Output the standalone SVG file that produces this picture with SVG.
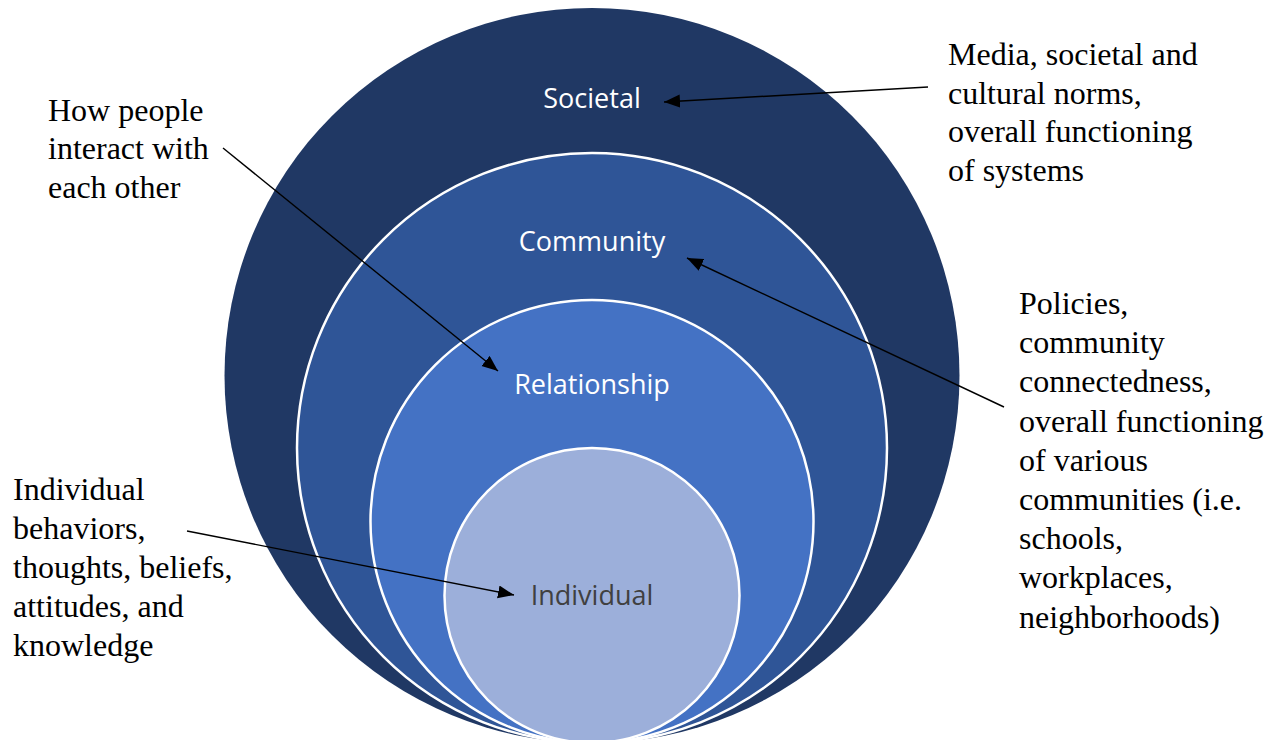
<svg xmlns="http://www.w3.org/2000/svg" width="1275" height="740" viewBox="0 0 1275 740">
  <style>
    .ring { stroke: #ffffff; stroke-width: 2.5; }
    .lbl { font-family: "Open Sans", "Noto Sans", sans-serif; font-size: 27px; text-anchor: middle; fill: #ffffff; }
    .note { font-family: "Liberation Serif", "Times New Roman", serif; font-size: 32px; fill: #000000; }
    .conn { stroke: #000000; stroke-width: 1.4; fill: none; marker-end: url(#arrow); }
  </style>
  <defs>
    <marker id="arrow" markerUnits="userSpaceOnUse" markerWidth="17" markerHeight="14" refX="16" refY="6.5" orient="auto">
      <path d="M0,0 L16,6.5 L0,13 Z" fill="#000000"/>
    </marker>
  </defs>
  <rect width="1275" height="740" fill="#ffffff"/>

  <g id="societal">
    <circle cx="592" cy="375.5" r="367.5" fill="#203864"/>
    <text class="lbl" x="592" y="108">Societal</text>
  </g>
  <g id="community">
    <circle class="ring" cx="592" cy="448" r="295" fill="#2F5597"/>
    <text class="lbl" x="592" y="251">Community</text>
  </g>
  <g id="relationship">
    <circle class="ring" cx="592" cy="521.5" r="221.5" fill="#4472C4"/>
    <text class="lbl" x="592" y="394">Relationship</text>
  </g>
  <g id="individual">
    <circle class="ring" cx="592" cy="595.5" r="147.5" fill="#9CAFDA"/>
    <text class="lbl" x="592" y="605" style="fill:#404040">Individual</text>
  </g>

  <g id="note-societal">
    <text class="note" x="948" y="65">Media, societal and</text>
    <text class="note" x="948" y="103.5">cultural norms,</text>
    <text class="note" x="948" y="142">overall functioning</text>
    <text class="note" x="948" y="180.5">of systems</text>
  </g>
  <g id="note-relationship">
    <text class="note" x="48" y="120.5">How people</text>
    <text class="note" x="48" y="159">interact with</text>
    <text class="note" x="48" y="197.5">each other</text>
  </g>
  <g id="note-community">
    <text class="note" x="1019" y="314">Policies,</text>
    <text class="note" x="1019" y="353.2">community</text>
    <text class="note" x="1019" y="392.4">connectedness,</text>
    <text class="note" x="1019" y="431.6">overall functioning</text>
    <text class="note" x="1019" y="470.8">of various</text>
    <text class="note" x="1019" y="510">communities (i.e.</text>
    <text class="note" x="1019" y="549.2">schools,</text>
    <text class="note" x="1019" y="588.4">workplaces,</text>
    <text class="note" x="1019" y="627.6">neighborhoods)</text>
  </g>
  <g id="note-individual">
    <text class="note" x="13" y="500">Individual</text>
    <text class="note" x="13" y="539">behaviors,</text>
    <text class="note" x="13" y="578">thoughts, beliefs,</text>
    <text class="note" x="13" y="617">attitudes, and</text>
    <text class="note" x="13" y="656">knowledge</text>
  </g>

  <g id="connectors">
    <line class="conn" x1="928" y1="87" x2="664" y2="102"/>
    <line class="conn" x1="223" y1="148" x2="498" y2="371"/>
    <line class="conn" x1="1004" y1="407" x2="687" y2="258"/>
    <line class="conn" x1="187" y1="531" x2="514" y2="595"/>
  </g>
</svg>
